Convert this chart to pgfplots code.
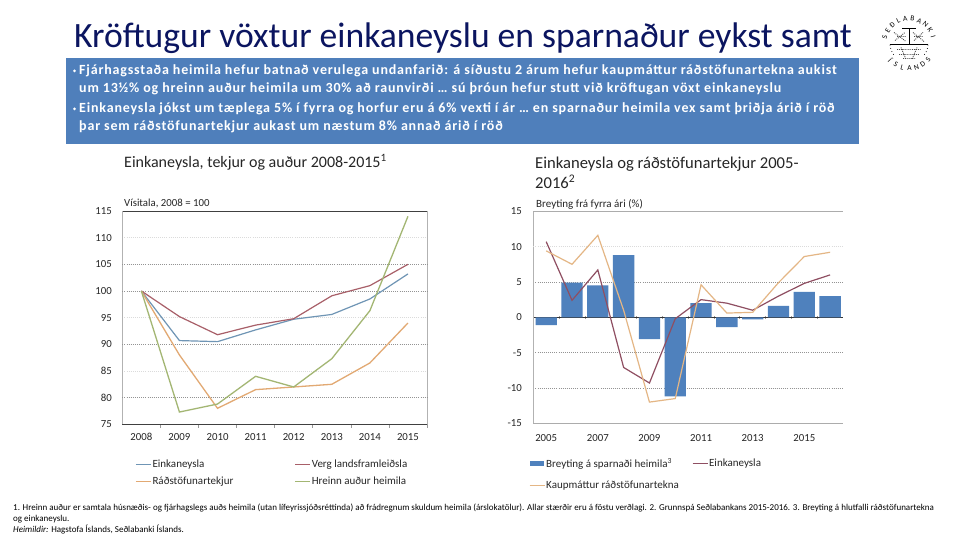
\documentclass[border=0pt]{standalone}
\usepackage{fontspec}
\setmainfont{Carlito}
\usepackage{pgfplots}
\pgfplotsset{compat=1.18}

\definecolor{boxblue}{HTML}{4F7FBB}
\definecolor{barblue}{HTML}{4F81BD}
\definecolor{navy}{HTML}{0B1560}
\definecolor{lblue}{HTML}{6F95B5}
\definecolor{lred}{HTML}{A85F68}
\definecolor{lorange}{HTML}{E2A973}
\definecolor{lgreen}{HTML}{A3B673}
\definecolor{rred}{HTML}{8F4F62}
\definecolor{rorange}{HTML}{E4B685}
\definecolor{txt}{HTML}{262626}

\newcommand{\bodyline}[3]{\node[anchor=base west,inner sep=0pt,text=white,font=\fontsize{14}{14}\selectfont\addfontfeatures{LetterSpace=#1}] at (79,#2) {#3};}
\newcommand{\foot}[2]{\node[anchor=base west,inner sep=0pt,text=black,font=\fontsize{9}{9}\selectfont] at (13,#1) {#2};}

\pgfplotstableread{
x ein verg rad hre
0 100 100 100 100
1 90.7 95.2 88 77.3
2 90.5 91.8 78 78.8
3 92.7 93.6 81.5 84
4 94.7 94.8 82 82
5 95.6 99.1 82.5 87.3
6 98.5 101 86.5 96.3
7 103.2 105 94 114
}\leftdata

\pgfplotstableread{
x bar ein kau
0 -1.1 10.7 9.4
1 4.9 2.4 7.5
2 4.5 6.7 11.6
3 8.8 -7.1 1.0
4 -3.1 -9.3 -12
5 -11.2 -0.2 -11.5
6 2.0 2.5 4.6
7 -1.4 2.0 0.6
8 -0.3 1.0 0.7
9 1.6 3.0 4.9
10 3.6 4.8 8.6
11 3.0 6.0 9.2
}\rightdata

\tikzset{griddot/.style={dash pattern=on .8pt off 1.3pt,line width=.6pt}}
\pgfplotsset{
  chart/.style={
    scale only axis,
    anchor=south west,
    clip=false,
    tick label style={font=\fontsize{10.8}{10.8}\selectfont,text=txt},
    /pgf/number format/assume math mode=true,
    /pgf/number format/1000 sep={},
    major tick length=0pt,
    minor tick length=3.5pt,
    tick align=outside,
    minor tick style={gray!80,line width=.6pt},
    legend cell align=left,
    legend image code/.code={\draw[##1] (0pt,0pt) -- (15pt,0pt);},
  },
}

\begin{document}
\begin{tikzpicture}[x=1pt,y=1pt]
\useasboundingbox (0,0) rectangle (960,540);
\fill[white] (0,0) rectangle (960,540);

% title and blue box
\node[anchor=base west,inner sep=0pt,text=navy,font=\fontsize{35.6}{35.6}\selectfont] at (74,492) {Kröftugur vöxtur einkaneyslu en sparnaður eykst samt};
\fill[boxblue] (66,396) rectangle (859,482);
\fill[white] (74.5,469) circle (1.5);
\fill[white] (74.5,431) circle (1.5);
\bodyline{5.8}{465}{\textbf{Fjárhagsstaða heimila hefur batnað verulega undanfarið: á síðustu 2 árum hefur kaupmáttur ráðstöfunartekna aukist}}
\bodyline{5.8}{447.5}{\textbf{um 13½\% og hreinn auður heimila um 30\% að raunvirði … sú þróun hefur stutt við kröftugan vöxt einkaneyslu}}
\bodyline{5.8}{427}{\textbf{Einkaneysla jókst um tæplega 5\% í fyrra og horfur eru á 6\% vexti í ár … en sparnaður heimila vex samt þriðja árið í röð}}
\bodyline{5.8}{409}{\textbf{þar sem ráðstöfunartekjur aukast um næstum 8\% annað árið í röð}}

% seal
\begin{scope}[shift={(909,496.5)}]
  \foreach \l [count=\i from 0] in {S,E,Ð,L,A,B,A,N,K,I} {
    \pgfmathsetmacro{\a}{165-16.6*\i}
    \node[rotate=\a-90,inner sep=0pt,font=\fontsize{7.5}{7.5}\selectfont] at (\a:25) {\l};
  }
  \foreach \l [count=\i from 0] in {Í,S,L,A,N,D,S} {
    \pgfmathsetmacro{\a}{222+16.3*\i}
    \node[rotate=\a+90,inner sep=0pt,font=\fontsize{7.5}{7.5}\selectfont] at (\a:25) {\l};
  }
  \draw[line width=.7pt] (-19,-1) -- (19,-1);
  \draw[line width=.9pt] (-7,15) -- (7,15) (0,15) -- (0,-1);
  \draw[black!70,line width=.9pt,densely dotted] (-15,11) -- (-3,2) (-14,3) -- (-4,11) (-12,7) -- (-3,7) (4,11) -- (15,2) (5,3) -- (14,11) (5,7) -- (14,7);
  \draw[black!70,line width=.9pt,densely dotted] (-12,-6) -- (12,-6) (-10,-11) -- (10,-11) (-6,-15) -- (6,-15) (-8,-4) -- (-3,-16) (8,-4) -- (3,-16);
  \foreach \a in {185,195,205,215,325,335,345,355} \fill (\a:19) circle (.5);
\end{scope}

% left chart
\node[anchor=base west,inner sep=0pt,text=txt,font=\fontsize{16}{16}\selectfont] at (124,372.5) {Einkaneysla, tekjur og auður 2008-2015\textsuperscript{1}};
\node[anchor=base west,inner sep=0pt,text=txt,font=\fontsize{10.8}{10.8}\selectfont] at (124,333.5) {Vísitala, 2008 = 100};
\begin{axis}[chart,
  at={(122.3pt,115.7pt)},
  width=304.7pt, height=213.3pt,
  xmin=-0.5, xmax=7.5, ymin=75, ymax=115,
  ytick={75,80,...,115},
  xtick={0,...,7},
  xticklabels={2008,2009,2010,2011,2012,2013,2014,2015},
  minor xtick={0.5,1.5,...,6.5,7.5},
  xtick pos=bottom, ytick pos=left,
  x tick label style={yshift=-5.5pt},
  y tick label style={xshift=-7pt},
  ymajorgrids,
  major grid style={griddot,gray!28},
  extra y ticks={80,90,100,105},
  extra y tick labels={},
  extra y tick style={major grid style={griddot,gray!85}},
  separate axis lines,
  every outer x axis line/.append style={black!75,line width=.8pt},
  every outer y axis line/.append style={gray!60,line width=.7pt},
  legend columns=2,
  legend style={at={(0.0417,-0.16)},anchor=north west,draw=none,fill=none,inner sep=0pt,
    nodes={inner sep=1pt},
    font=\fontsize{11}{11}\selectfont,text=txt,row sep=6.5pt,
    /tikz/every even column/.append style={column sep=1pt}},
]
\addplot[lblue,line width=1.2pt] table[x=x,y=ein] {\leftdata};
\addlegendentry{\makebox[140pt][l]{Einkaneysla}}
\addplot[lred,line width=1.2pt] table[x=x,y=verg] {\leftdata};
\addlegendentry{Verg landsframleiðsla}
\addplot[lorange,line width=1.3pt] table[x=x,y=rad] {\leftdata};
\addlegendentry{\makebox[140pt][l]{Ráðstöfunartekjur}}
\addplot[lgreen,line width=1.3pt] table[x=x,y=hre] {\leftdata};
\addlegendentry{Hreinn auður heimila}
\end{axis}

% right chart
\node[anchor=base west,inner sep=0pt,text=txt,font=\fontsize{16.6}{16.6}\selectfont] at (535,371) {Einkaneysla og ráðstöfunartekjur 2005-};
\node[anchor=base west,inner sep=0pt,text=txt,font=\fontsize{16.6}{16.6}\selectfont] at (535,351.5) {2016\textsuperscript{2}};
\node[anchor=base west,inner sep=0pt,text=txt,font=\fontsize{11}{11}\selectfont] at (536,332.5) {Breyting frá fyrra ári (\%)};
\begin{axis}[chart,
  at={(533.3pt,116.7pt)},
  width=309.7pt, height=212pt,
  xmin=-0.5, xmax=11.5, ymin=-15, ymax=15,
  axis x line=middle, axis y line=left,
  axis line style={-},
  x axis line style={black!80,line width=.8pt},
  y axis line style={gray!60,line width=.7pt},
  ytick={-15,-10,...,15},
  yticklabels={-15,-10,-5,0,5,10,15},
  y tick label style={xshift=-8pt},
  xtick={0,2,...,10},
  xticklabels={2005,2007,2009,2011,2013,2015},
  minor xtick={0.5,1.5,...,10.5},
  x tick label style={yshift=-113.5pt,anchor=north},
  yminorgrids,
  minor ytick={-10,-5,5},
  minor grid style={griddot,gray!85},
  minor y tick style={draw=none},
  extra y ticks={-15,15},
  extra y tick labels={},
  extra y tick style={ymajorgrids=true,major grid style={solid,gray!65,line width=.7pt}},
  legend columns=2,
  legend style={at={(-0.0145,-0.16)},anchor=north west,draw=none,fill=none,inner sep=0pt,
    nodes={inner sep=1pt},
    font=\fontsize{11}{11}\selectfont,text=txt,row sep=10pt,
    /tikz/every even column/.append style={column sep=1pt}},
]
\draw[griddot,gray!28] (axis cs:-0.5,10) -- (axis cs:11.5,10);
\addplot[ybar,bar width=21.3pt,bar shift=0pt,fill=barblue,draw=none,
  legend image code/.code={\fill[barblue] (0pt,-2.7pt) rectangle (14pt,2.7pt);}]
  table[x=x,y=bar] {\rightdata};
\addlegendentry{\makebox[143.7pt][l]{Breyting á sparnaði heimila\textsuperscript{3}}}
\addplot[rred,line width=1.2pt] table[x=x,y=ein] {\rightdata};
\addlegendentry{Einkaneysla}
\addplot[rorange,line width=1.2pt] table[x=x,y=kau] {\rightdata};
\addlegendentry{Kaupmáttur ráðstöfunartekna}
\end{axis}

% footnotes
\foot{29}{1. Hreinn auður er samtala húsnæðis- og fjárhagslegs auðs heimila (utan lífeyrissjóðsréttinda) að frádregnum skuldum heimila (árslokatölur). Allar stærðir eru á föstu verðlagi. 2. Grunnspá Seðlabankans 2015-2016. 3. Breyting á hlutfalli ráðstöfunartekna}
\foot{18}{og einkaneyslu.}
\foot{7.5}{\textit{Heimildir:} Hagstofa Íslands, Seðlabanki Íslands.}
\end{tikzpicture}
\end{document}
